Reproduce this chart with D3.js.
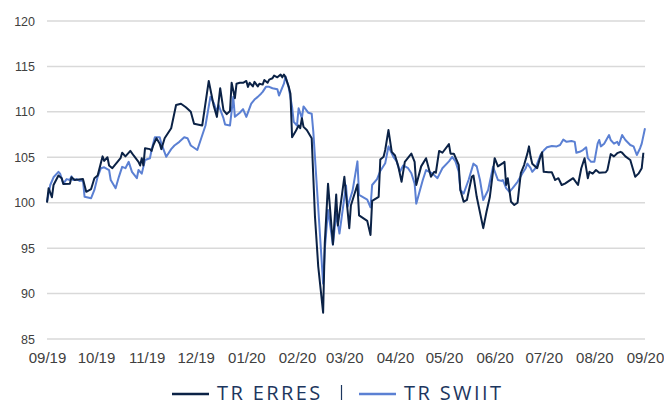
<!DOCTYPE html>
<html>
<head>
<meta charset="utf-8">
<script src="https://cdn.jsdelivr.net/npm/d3@7"></script>
<style>
  body { margin: 0; background: #fff; }
  svg { display: block; }
</style>
</head>
<body>
<div id="chart"></div>
<script>
// TR ERRES vs TR SWIIT, rebased to 100 on 09/19

var startDate = new Date(2019, 8, 1)

var monthLabels = ["09/19", "10/19", "11/19", "12/19", "01/20", "02/20", "03/20",
                   "04/20", "05/20", "06/20", "07/20", "08/20", "09/20"]
var yTicks = [85, 90, 95, 100, 105, 110, 115, 120]

// days since 1 Sep 2019
var erresDays = [0, 1, 3, 4, 7, 9, 10, 14, 15, 17, 22, 24, 27, 29, 31, 34, 35, 37, 38, 40,
  45, 46, 48, 51, 53, 56, 57, 58, 59, 60, 63, 64, 65, 67, 69, 70, 72, 76, 79, 82,
  85, 88, 90, 95, 99, 102, 104, 106, 108, 110, 112, 113, 115, 116, 118, 120, 122, 123, 124, 126,
  127, 129, 130, 132, 133, 135, 136, 138, 139, 141, 143, 144, 145, 146, 148, 149, 150, 152, 154, 155,
  156, 157, 159, 162, 164, 166, 169, 170, 172, 175, 177, 178, 182, 185, 186, 190, 191, 196, 198, 199,
  203, 204, 206, 207, 209, 211, 213, 215, 217, 219, 223, 225, 226, 229, 232, 235, 237, 238, 240, 242,
  246, 247, 249, 252, 253, 255, 257, 260, 261, 263, 267, 269, 271, 274, 276, 279, 280, 281, 282, 283,
  284, 286, 288, 290, 292, 294, 295, 296, 297, 300, 302, 303, 304, 307, 309, 311, 313, 315, 317, 322,
  325, 327, 329, 331, 332, 334, 336, 338, 342, 343, 345, 347, 349, 351, 352, 354, 357, 360, 362, 364, 365]
var erresValues = [100, 101.6, 100.6, 101.95, 103.0, 102.7, 102.05, 102.1, 102.8, 102.5, 102.6, 101.2, 101.5, 102.7, 103.0, 105.1, 104.6, 105.0, 104.1, 103.8,
  104.9, 105.5, 105.1, 105.7, 105.2, 104.5, 104.1, 104.9, 104.1, 106.0, 105.9, 105.7, 106.3, 107.1, 106.5, 105.9, 107.1, 108.2, 110.75, 110.9,
  110.5, 110.0, 108.7, 108.5, 113.4, 110.7, 109.45, 112.6, 110.2, 109.75, 110.1, 113.2, 111.5, 113.1, 113.2, 113.2, 113.4, 112.75, 113.2, 112.8,
  113.3, 112.8, 113.1, 113.0, 113.5, 113.2, 113.55, 113.7, 114.0, 113.8, 114.1, 113.8, 114.1, 113.8, 112.75, 112.0, 107.2, 107.8, 108.5, 108.2,
  109.3, 108.35, 108.0, 107.1, 98.5, 93.0, 87.9, 95.5, 102.1, 95.4, 100.9, 97.5, 102.85, 97.2, 99.7, 102.0, 98.6, 98.0, 96.45, 100.2,
  100.65, 104.75, 105.05, 105.8, 108.0, 105.6, 105.2, 104.0, 102.3, 104.5, 105.4, 104.5, 101.95, 104.0, 104.9, 102.85, 103.4, 103.3, 105.7, 105.5,
  106.45, 105.4, 105.4, 104.15, 101.4, 100.1, 100.3, 102.85, 103.0, 100.65, 97.2, 99.0, 100.6, 104.9, 104.0, 104.35, 104.5, 101.95, 102.7, 101.4,
  100.1, 99.75, 100.0, 103.25, 104.15, 105.4, 106.2, 105.05, 104.3, 103.8, 105.05, 105.55, 103.4, 103.35, 103.35, 102.5, 102.7, 101.95, 102.1, 102.7,
  101.95, 103.8, 104.9, 102.7, 103.4, 103.2, 103.6, 103.3, 103.35, 103.6, 105.35, 105.1, 105.45, 105.6, 105.5, 105.1, 104.7, 102.85, 103.2, 103.8, 105.5]

var swiitDays = [0, 2, 4, 7, 8, 10, 12, 14, 15, 16, 18, 20, 22, 23, 27, 29, 31, 33, 35, 38,
  39, 42, 44, 46, 48, 50, 52, 55, 56, 58, 60, 63, 64, 66, 69, 70, 73, 76, 78, 81,
  84, 86, 88, 92, 97, 100, 102, 104, 105, 108, 109, 112, 114, 115, 118, 120, 122, 125, 127, 129,
  131, 132, 134, 136, 138, 141, 142, 145, 146, 148, 150, 151, 153, 154, 156, 157, 160, 162, 163, 169,
  170, 172, 175, 177, 179, 183, 184, 187, 190, 191, 196, 198, 199, 202, 204, 207, 209, 212, 214, 216,
  218, 221, 223, 225, 226, 228, 230, 232, 234, 236, 239, 242, 246, 248, 250, 252, 253, 255, 258, 261,
  263, 265, 267, 270, 273, 276, 278, 279, 281, 283, 285, 288, 291, 293, 294, 296, 297, 299, 302, 304,
  306, 309, 312, 314, 316, 318, 321, 323, 324, 326, 328, 330, 331, 333, 335, 337, 338, 339, 341, 344,
  345, 347, 349, 350, 352, 354, 357, 359, 361, 363, 364, 366]
var swiitValues = [100.1, 101.95, 102.8, 103.4, 103.2, 102.1, 102.6, 102.5, 102.9, 102.5, 102.6, 102.4, 102.5, 100.65, 100.5, 101.4, 102.85, 103.8, 103.9, 103.6,
  102.5, 101.6, 102.85, 103.95, 103.8, 104.5, 103.4, 102.7, 103.6, 103.2, 104.7, 104.9, 105.8, 107.2, 107.2, 106.5, 105.05, 105.9, 106.3, 106.7,
  107.2, 107.1, 106.3, 105.8, 108.5, 111.65, 111.0, 110.0, 110.75, 109.3, 108.6, 108.5, 111.65, 109.45, 109.9, 110.3, 109.45, 110.9, 111.35, 111.65,
  112.0, 112.2, 112.75, 112.75, 112.6, 112.5, 111.8, 113.1, 113.9, 112.6, 110.55, 108.9, 108.5, 110.4, 109.3, 110.6, 109.9, 109.8, 107.8, 91.1,
  94.8, 99.2, 95.4, 98.8, 96.6, 101.9, 99.55, 101.3, 104.55, 100.85, 100.35, 99.5, 101.95, 102.6, 103.5, 104.35, 106.2, 105.05, 104.55, 103.4,
  104.1, 103.8, 103.25, 102.1, 99.9, 101.2, 102.5, 103.6, 103.4, 103.2, 102.7, 103.8, 104.55, 105.05, 104.55, 103.4, 101.4, 101.0, 102.5, 104.3,
  104.0, 102.5, 100.3, 101.4, 103.95, 102.5, 102.4, 102.5, 101.6, 101.2, 101.6, 102.3, 103.25, 103.8, 104.3, 103.8, 103.4, 103.8, 105.25, 105.75,
  106.1, 106.25, 106.2, 106.35, 106.95, 106.7, 106.8, 106.7, 105.5, 105.6, 105.8, 106.1, 104.9, 104.5, 104.5, 106.5, 106.9, 106.2, 106.5, 107.45,
  106.9, 106.5, 106.7, 106.35, 107.45, 106.9, 106.35, 106.2, 105.25, 106.0, 106.5, 108.2]

var seriesNames = ["TR ERRES", "TR SWIIT"]
var seriesColors = ["#0b2246", "#5b80d3"]

var W = 664, H = 406
var margin = {top: 21, right: 19, bottom: 67, left: 47}
var width = W - margin.left - margin.right,
    height = H - margin.top - margin.bottom

var svg = d3.select("#chart").append("svg")
    .attr("width", W)
    .attr("height", H)

var g = svg.append("g")
    .attr("transform", "translate(" + margin.left + "," + margin.top + ")")

var x = d3.scaleTime()
  .domain([startDate, d3.timeMonth.offset(startDate, 12)])
  .range([0, width])

var y = d3.scaleLinear()
  .domain([85, 120])
  .range([height, 0])

// gridlines
g.selectAll(".grid")
  .data(yTicks)
  .enter().append("line")
    .attr("x1", 0)
    .attr("x2", width)
    .attr("y1", function(d) { return y(d) })
    .attr("y2", function(d) { return y(d) })
    .style("stroke", "#d9d9d9")
    .style("stroke-width", 1.5)

// y axis
var yAxis = g.append("g")
  .call(d3.axisLeft(y).tickValues(yTicks).tickSize(0).tickPadding(12))
yAxis.select(".domain").remove()
yAxis.selectAll("text")
  .style("font-family", "'Liberation Sans', Arial, sans-serif")
  .style("font-size", "12.5px")
  .style("fill", "#404040")

// x axis
var monthDates = monthLabels.map(function(d, i) { return d3.timeMonth.offset(startDate, i) })
var xAxis = g.append("g")
  .attr("transform", "translate(0," + height + ")")
  .call(d3.axisBottom(x).tickValues(monthDates).tickSize(0).tickPadding(13)
    .tickFormat(function(d, i) { return monthLabels[i] }))
xAxis.select(".domain").remove()
xAxis.selectAll("text")
  .style("font-family", "'Liberation Sans', Arial, sans-serif")
  .style("font-size", "15px")
  .style("fill", "#404040")

// lines
var line = d3.line()
  .x(function(d) { return x(d3.timeDay.offset(startDate, d[0])) })
  .y(function(d) { return y(d[1]) })

var series = [
  d3.zip(erresDays, erresValues),
  d3.zip(swiitDays, swiitValues)
]

// light line first so the dark one sits on top
g.append("path")
  .datum(series[1])
  .attr("d", line)
  .style("fill", "none")
  .style("stroke", seriesColors[1])
  .style("stroke-width", 2)
  .style("stroke-linejoin", "round")

g.append("path")
  .datum(series[0])
  .attr("d", line)
  .style("fill", "none")
  .style("stroke", seriesColors[0])
  .style("stroke-width", 2)
  .style("stroke-linejoin", "round")

// legend
var legend = svg.append("g")
var legendX = [172, 359]
seriesNames.forEach(function(name, i) {
  legend.append("line")
    .attr("x1", legendX[i])
    .attr("x2", legendX[i] + 37)
    .attr("y1", 394)
    .attr("y2", 394)
    .style("stroke", seriesColors[i])
    .style("stroke-width", 2.5)
  legend.append("text")
    .attr("x", legendX[i] + 45)
    .attr("y", 400)
    .style("font-family", "'Open Sans', sans-serif")
    .style("font-size", "20px")
    .style("letter-spacing", "2.4px")
    .style("fill", "#1c365e")
    .text(name)
})
legend.append("line")
  .attr("x1", 341.5)
  .attr("x2", 341.5)
  .attr("y1", 385)
  .attr("y2", 400)
  .style("stroke", "#1c365e")
  .style("stroke-width", 1.2)
</script>
</body>
</html>
